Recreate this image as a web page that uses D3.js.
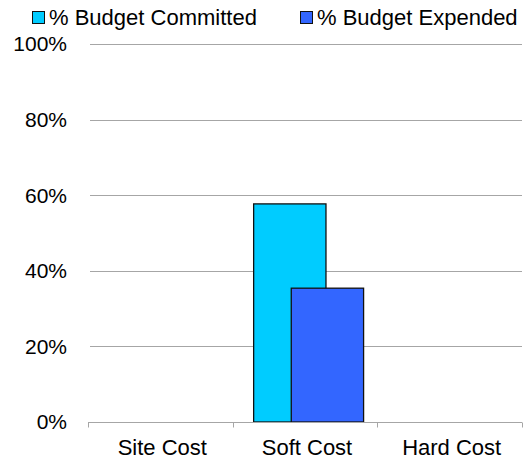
<!DOCTYPE html>
<html>
<head>
<meta charset="utf-8">
<script src="https://cdn.jsdelivr.net/npm/d3@7"></script>
<style>
  body { margin: 0; background: #fff; }
  text { font-family: "Liberation Sans", Arial, sans-serif; fill: #000; }
</style>
</head>
<body>
<div id="chart"></div>
<script>
var categories = ["Site Cost", "Soft Cost", "Hard Cost"];
var committed = [0, 57.7, 0];
var expended = [0, 35.4, 0];
var seriesNames = ["% Budget Committed", "% Budget Expended"];
var seriesColors = ["#00CCFF", "#3366FF"];
var yTicks = [0, 20, 40, 60, 80, 100];

var width = 531, height = 460;
var margin = { left: 90, right: 9, top: 44, bottom: 38 };

var svg = d3.select("#chart").append("svg")
    .attr("width", width)
    .attr("height", height);

var x = d3.scaleBand()
    .domain(categories)
    .range([margin.left - 2, width - margin.right])
    .padding(0);

var y = d3.scaleLinear()
    .domain([0, 100])
    .range([height - margin.bottom, margin.top]);

// gridlines
svg.append("g")
    .selectAll("line")
    .data(yTicks.filter(function(d) { return d > 0; }))
    .enter().append("line")
    .attr("x1", margin.left)
    .attr("x2", width - margin.right)
    .attr("y1", function(d) { return Math.round(y(d)) + 0.5; })
    .attr("y2", function(d) { return Math.round(y(d)) + 0.5; })
    .attr("stroke", "#a6a6a6")
    .attr("stroke-width", 1);

// y labels
svg.append("g")
    .selectAll("text")
    .data(yTicks)
    .enter().append("text")
    .attr("x", 67)
    .attr("y", function(d) { return y(d); })
    .attr("dy", "0.35em")
    .attr("text-anchor", "end")
    .attr("font-size", 21)
    .text(function(d) { return d + "%"; });

// bars
var bw = x.bandwidth();
var barData = [];
categories.forEach(function(c, i) {
    barData.push({ cat: c, v: committed[i], s: 0 });
    barData.push({ cat: c, v: expended[i], s: 1 });
});

svg.append("g")
    .selectAll("rect")
    .data(barData.filter(function(d) { return d.v > 0; }))
    .enter().append("rect")
    .attr("x", function(d) { return x(d.cat) + bw * (d.s === 0 ? 0.145 : 0.405); })
    .attr("width", bw * 0.5)
    .attr("y", function(d) { return y(d.v); })
    .attr("height", function(d) { return y(0) - y(d.v); })
    .attr("fill", function(d) { return seriesColors[d.s]; })
    .attr("stroke", "#111")
    .attr("stroke-width", 1.3);

// x axis
var xAxis = svg.append("g")
    .attr("transform", "translate(0," + (Math.round(y(0)) + 0.5) + ")");
xAxis.append("line")
    .attr("x1", x.range()[0])
    .attr("x2", x.range()[1])
    .attr("stroke", "#a6a6a6");
xAxis.selectAll(".tk")
    .data(categories.concat(["end"]))
    .enter().append("line")
    .attr("class", "tk")
    .attr("x1", function(d, i) { return Math.round(x.range()[0] + i * bw) + 0.5; })
    .attr("x2", function(d, i) { return Math.round(x.range()[0] + i * bw) + 0.5; })
    .attr("y1", 0)
    .attr("y2", 5)
    .attr("stroke", "#a6a6a6");
xAxis.selectAll("text")
    .data(categories)
    .enter().append("text")
    .attr("x", function(d) { return x(d) + bw / 2 + 2; })
    .attr("y", 32)
    .attr("text-anchor", "middle")
    .attr("font-size", 22)
    .text(function(d) { return d; });

// legend
var legend = svg.append("g");
var legX = [32, 300];
seriesNames.forEach(function(name, i) {
    legend.append("rect")
        .attr("x", legX[i] + 0.5)
        .attr("y", 11.5)
        .attr("width", 12)
        .attr("height", 12)
        .attr("fill", seriesColors[i])
        .attr("stroke", "#111");
    legend.append("text")
        .attr("x", legX[i] + 17)
        .attr("y", 25)
        .attr("font-size", 22)
        .text(name);
});
</script>
</body>
</html>
